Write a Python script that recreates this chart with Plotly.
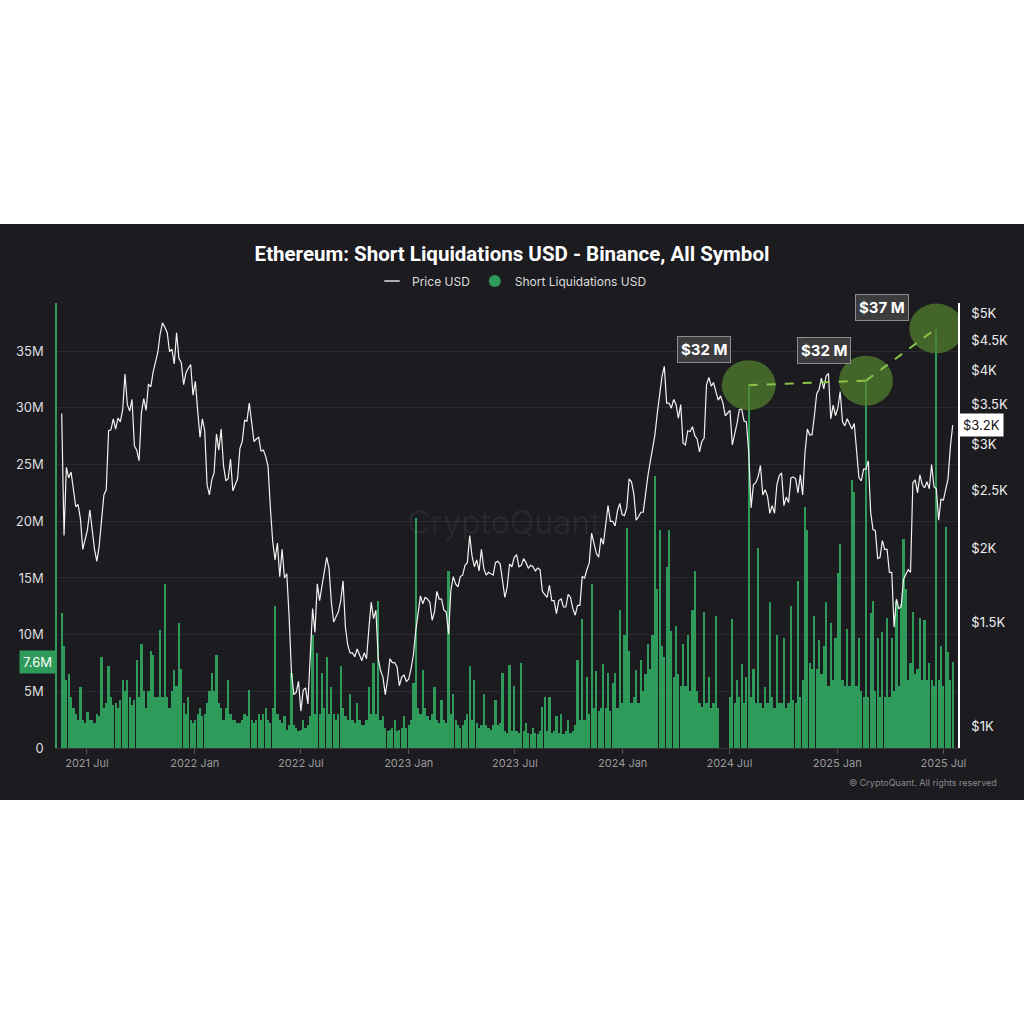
import numpy as np
import pandas as pd
import plotly.graph_objects as go

# ---------------- data ----------------
# ETH price (USD), one value every 4 days from 2021-05-19
price_start = "2021-05-19"
price_usd = [
    # 2021
    3380, 2100, 2740, 2630, 2690, 2510, 2350, 2370, 2240, 1990, 2080,
    2150, 2320, 2140, 1990, 1900, 2020, 2230, 2460, 2510, 3160, 3170,
    3310, 3180, 3320, 3270, 3430, 3940, 3500, 3410, 3570, 2980, 2930,
    2810, 3390, 3580, 3420, 3790, 3750, 3970, 4130, 4290, 4610, 4810,
    4730, 4630, 4300, 4340, 4100, 4630, 4190, 4120, 3780, 3960, 4030,
    4090, 3630,
    # 2022
    3830, 3410, 3080, 3310, 3160, 2560, 2460, 2610, 2680, 3120, 2930,
    3180, 2760, 2600, 2620, 2830, 2500, 2560, 2620, 2950, 3030, 3290,
    3280, 3520, 3260, 3030, 3060, 3080, 2920, 2930, 2860, 2750, 2340,
    2050, 1910, 2040, 1790, 1990, 1780, 1810, 1530, 1230, 1130, 1140,
    1190, 1060, 1150, 1160, 1090, 1350, 1580, 1440, 1740, 1630, 1730,
    1850, 1930, 1850, 1620, 1500, 1530, 1560, 1630, 1760, 1470, 1370,
    1330, 1330, 1310, 1350, 1320, 1290, 1330, 1300, 1460, 1620, 1520,
    1570, 1300, 1240, 1210, 1130, 1200, 1300, 1280, 1280, 1260, 1170,
    1210, 1220, 1190,
    # 2023
    1200, 1250, 1320, 1450, 1570, 1660, 1610, 1650, 1640, 1620, 1510,
    1560, 1690, 1640, 1640, 1570, 1560, 1430, 1700, 1790, 1740, 1720,
    1790, 1800, 1870, 1890, 2100, 1940, 1860, 1910, 1830, 1990, 1850,
    1800, 1820, 1810, 1800, 1890, 1900, 1880, 1750, 1650, 1720, 1880,
    1860, 1930, 1950, 1860, 1870, 1920, 1890, 1850, 1870, 1860, 1830,
    1850, 1840, 1690, 1670, 1650, 1730, 1630, 1630, 1550, 1630, 1640,
    1590, 1590, 1670, 1650, 1580, 1540, 1600, 1600, 1790, 1780, 1840,
    1890, 2120, 2040, 1960, 1930, 2080, 2030, 2190, 2360, 2220, 2220,
    2180, 2310, 2380, 2280,
    # 2024
    2270, 2340, 2620, 2590, 2470, 2230, 2260, 2300, 2300, 2480, 2650,
    2800, 2960, 3110, 3380, 3640, 3900, 4060, 3520, 3520, 3450, 3570,
    3500, 3320, 3500, 3010, 2990, 3160, 3150, 3210, 3100, 3060, 2910,
    3030, 3070, 3780, 3890, 3760, 3810, 3680, 3560, 3620, 3520, 3350,
    3380, 3420, 2990, 3100, 3250, 3430, 3440, 3280, 3270, 2900, 2340,
    2560, 2580, 2640, 2760, 2460, 2510, 2450, 2290, 2360, 2290, 2560,
    2650, 2680, 2360, 2440, 2390, 2630, 2640, 2620, 2480, 2660, 2460,
    2900, 3180, 3110, 3110, 3350, 3650, 3710, 3880, 3720, 3910, 3950,
    3310, 3490, 3350,
    # 2025
    3450, 3680, 3270, 3220, 3310, 3250, 3180, 3250, 2880, 2630, 2600,
    2720, 2720, 2810, 2300, 2150, 2140, 1920, 1930, 2060, 1990, 1990,
    1820, 1820, 1470, 1640, 1580, 1590, 1770, 1800, 1840, 1820, 2580,
    2610, 2480, 2660, 2560, 2530, 2590, 2520, 2770, 2540, 2520, 2230,
    2420, 2410, 2520, 2620, 2970, 3230,
]

# Binance ETH short liquidations (million USD), one value every 4 days from 2021-05-19
liq_start = "2021-05-19"
short_liq_musd = [
    11.9, 9, 6, 6.5, 4.5, 3.5, 3, 2.5, 5.4, 2.5,
    2.2, 3.2, 2.5, 2.5, 2.2, 3, 2.8, 8, 3.5, 4,
    7.2, 4.5, 3.8, 4, 3.5, 4.2, 6, 5, 6, 4.5,
    3.8, 4.2, 7.8, 4.5, 9.2, 5, 3.5, 5, 8.6, 8.2,
    4.5, 4.5, 10.4, 4.5, 14.5, 4.5, 3.5, 5, 6.9, 5.5,
    11, 7, 4, 3, 4.5, 2.5, 2.2, 2.5, 3, 3.5,
    2.8, 3, 4, 5, 6.6, 5, 8.2, 4, 3.5, 2.5,
    3.5, 6, 3, 2.5, 2.5, 2.2, 2.2, 2.5, 3, 2.8,
    5.1, 2.5, 2.2, 2.5, 3, 2.5, 3, 3.5, 2.5, 2.2,
    3.5, 12.5, 3, 2.5, 2.2, 2.8, 1.6, 2, 6.6, 2,
    1.8, 1.5, 1.6, 2.5, 1.8, 2, 2.8, 10, 3, 8.4,
    3, 6.6, 3.5, 8, 3, 5.4, 3, 2.5, 3, 7.2,
    3.5, 2.8, 2.5, 4.8, 2.5, 2.2, 4, 2.5, 2, 2,
    2.5, 5.4, 3, 7.5, 3, 13, 2.5, 2.8, 1.8, 1.5,
    1.6, 1.8, 2.5, 1.5, 1.6, 1.8, 2.8, 1.8, 2, 2.5,
    5.7, 20.3, 3.5, 3, 6.9, 3.5, 2.8, 2.5, 3, 5.4,
    2.5, 2.2, 4.2, 2.5, 2.2, 15.6, 3, 4.8, 2.5, 2,
    1.8, 2, 2.5, 3, 7.2, 2.5, 6, 2.2, 1.8, 2,
    4.8, 2, 1.8, 1.6, 2, 4.2, 2, 2.2, 6.6, 1.5,
    1.3, 7.3, 1.5, 5.5, 1.5, 1.3, 7.5, 1.5, 2.2, 1.3,
    1.2, 1.8, 1.3, 1.2, 1.5, 3.6, 4.5, 1.5, 4.5, 1.3,
    1.5, 2.8, 1.3, 3, 1.2, 1.5, 2.5, 1.3, 1.5, 2,
    7.8, 2.5, 11.4, 2.5, 6.3, 3, 14.5, 3.5, 6.8, 3.3,
    3.5, 7.4, 3.5, 6.6, 3.3, 5.7, 6.6, 3.5, 12.2, 4,
    10, 19.4, 8.6, 4, 4.5, 6.9, 4, 7.8, 5, 6.5,
    9.2, 7, 10, 24, 14, 19.2, 9, 8, 16, 19.2,
    10.3, 6.3, 10.8, 6.5, 5.5, 9.2, 5.5, 10, 5, 12.2,
    15.6, 5, 4, 3.6, 12, 4, 6.3, 3.5, 4, 11.6,
    3.5, None, None, None, None, 4.5, 11.4, 4, 6, 4.5,
    7.4, 4, 6.3, 32, 4.5, 7, 4, 17.6, 4, 3.5,
    5.4, 4, 12.9, 4.5, 3.5, 10, 4, 4, 9.7, 3.5,
    4, 12.5, 4.2, 4, 14.7, 4.5, 6, 21.3, 19.2, 7.5,
    7, 11.6, 7, 9.5, 6.5, 9, 12.9, 5.5, 11, 6,
    9.7, 15.4, 18, 6, 5.5, 10.5, 5.5, 23.6, 22.6, 5.5,
    9.7, 5, 4.5, 32.4, 4.5, 11.9, 13, 5, 9.7, 4.5,
    10.2, 4.5, 11.5, 4.5, 9.7, 5, 13, 5.5, 12.7, 18.4,
    14, 6, 7.5, 12, 6.5, 7, 11.5, 6, 11.3, 6,
    7.5, 6, 5.5, 37, 6, 9, 5.5, 19.5, 8.5, 6, 7.6,
]

# bars highlighted with circles in the original chart
highlight_idx = [293, 343, 373]

left_tickvals = [0, 5, 10, 15, 20, 25, 30, 35]
left_ticktext = ["0", "5M", "10M", "15M", "20M", "25M", "30M", "35M"]
right_tickvals = [1000, 1500, 2000, 2500, 3000, 3500, 4000, 4500, 5000]
right_ticktext = ["$1K", "$1.5K", "$2K", "$2.5K", "$3K", "$3.5K", "$4K", "$4.5K", "$5K"]
x_tickvals = ["2021-07-01", "2022-01-01", "2022-07-01", "2023-01-01", "2023-07-01",
              "2024-01-01", "2024-07-01", "2025-01-01", "2025-07-01"]
x_ticktext = ["2021 Jul", "2022 Jan", "2022 Jul", "2023 Jan", "2023 Jul",
              "2024 Jan", "2024 Jul", "2025 Jan", "2025 Jul"]

price_dates = pd.date_range(price_start, periods=len(price_usd), freq="4D")
liq_dates = pd.date_range(liq_start, periods=len(short_liq_musd), freq="4D")

# ---------------- style ----------------
BG = "#1b1b20"
GREEN = "#2e9b5a"
FONT = "Inter, Roboto, sans-serif"

fig = go.Figure()

fig.add_trace(go.Bar(
    x=liq_dates, y=short_liq_musd, name="Short Liquidations USD",
    marker=dict(color=GREEN, line=dict(width=0)),
    width=4 * 86400000 * 0.95, showlegend=False, yaxis="y",
))
fig.add_trace(go.Scatter(
    x=price_dates, y=price_usd, name="Price USD", mode="lines",
    line=dict(color="#f2f2f2", width=1.2), yaxis="y2", showlegend=False,
))
# legend keys
fig.add_trace(go.Scatter(
    x=[None], y=[None], mode="markers", name="Price USD",
    marker=dict(symbol="line-ew", size=11, line=dict(color="#dddddd", width=1.5)),
))
fig.add_trace(go.Scatter(
    x=[None], y=[None], mode="markers", name="Short Liquidations USD",
    marker=dict(symbol="circle", size=12, color=GREEN),
))

shapes = [
    dict(type="rect", xref="paper", yref="paper", x0=-0.2, x1=1.3,
         y0=(748 - 800) / 445, y1=(748 - 224) / 445,
         fillcolor=BG, line=dict(width=0), layer="below"),
]
for k, idx in enumerate(highlight_idx):
    shapes.append(dict(
        type="circle", xref="x", yref="y", xsizemode="pixel", ysizemode="pixel",
        xanchor=liq_dates[idx], yanchor=short_liq_musd[idx],
        x0=-27, x1=27, y0=-25, y1=25,
        fillcolor="rgba(85,130,45,0.72)", line=dict(width=0), layer="above",
    ))
for a, b in zip(highlight_idx[:-1], highlight_idx[1:]):
    shapes.append(dict(
        type="line", xref="x", yref="y",
        x0=liq_dates[a], y0=short_liq_musd[a], x1=liq_dates[b], y1=short_liq_musd[b],
        line=dict(color="#8bc34a", width=2, dash="dash"), layer="above",
    ))

label_shift = [(-45, 36), (-42, 30), (-54, 21)]
annotations = []
for idx, (dx, dy) in zip(highlight_idx, label_shift):
    annotations.append(dict(
        x=liq_dates[idx], y=short_liq_musd[idx], xref="x", yref="y",
        xshift=dx, yshift=dy, showarrow=False,
        text=f"${round(short_liq_musd[idx])} M",
        font=dict(family=FONT, size=15, color="#ffffff", weight=700),
        bgcolor="#3c3c3e", bordercolor="#8c8c8c", borderwidth=1, borderpad=3,
    ))
# last-value markers
annotations.append(dict(
    x=0, xref="paper", xanchor="right", y=short_liq_musd[-1], yref="y",
    text=f"{short_liq_musd[-1]}M", showarrow=False,
    font=dict(family=FONT, size=13, color="#ffffff"),
    bgcolor=GREEN, borderpad=3, xshift=-1,
))
annotations.append(dict(
    x=1, xref="paper", xanchor="left", y=np.log10(price_usd[-1]), yref="y2",
    text=f"${price_usd[-1] / 1000:.1f}K", showarrow=False,
    font=dict(family=FONT, size=13, color="#111111"),
    bgcolor="#ffffff", borderpad=3, xshift=1,
))
# watermark and footer
annotations.append(dict(
    x=(504 - 57) / 901, y=(748 - 522) / 445, xref="paper", yref="paper",
    text="CryptoQuant", showarrow=False,
    font=dict(family=FONT, size=32, color="rgba(255,255,255,0.06)"),
))
annotations.append(dict(
    x=(999 - 57) / 901, y=(748 - 782) / 445, xref="paper", yref="paper",
    xanchor="right", yanchor="middle",
    text="© CryptoQuant. All rights reserved", showarrow=False,
    font=dict(family=FONT, size=9, color="#8a8a8a"),
))

fig.update_layout(
    width=1024, height=1024, autosize=False,
    margin=dict(l=57, r=66, t=303, b=276, pad=0),
    paper_bgcolor="#ffffff", plot_bgcolor=BG,
    font=dict(family=FONT, color="#dddddd"),
    title=dict(
        text="Ethereum: Short Liquidations USD - Binance, All Symbol",
        x=0.5, xref="container", xanchor="center",
        y=1 - 254 / 1024, yref="container", yanchor="middle",
        font=dict(family="Roboto, Inter, sans-serif", size=20.5, color="#ffffff", weight=700),
    ),
    legend=dict(
        orientation="h", x=(512 - 57) / 901, xanchor="center",
        y=(748 - 281) / 445, yanchor="middle",
        font=dict(family=FONT, size=12, color="#dddddd"),
        bgcolor="rgba(0,0,0,0)", itemwidth=30,
    ),
    bargap=0,
    xaxis=dict(
        type="date", range=["2021-05-11", "2025-07-26"],
        tickvals=x_tickvals, ticktext=x_ticktext,
        tickfont=dict(family=FONT, size=11, color="#9a9a9a"),
        ticks="outside", ticklen=5, tickcolor="#555555",
        showgrid=False, zeroline=False, showline=True, linecolor="#333333",
    ),
    yaxis=dict(
        range=[0, 39.25], tickvals=left_tickvals, ticktext=left_ticktext,
        tickfont=dict(family=FONT, size=13, color="#dddddd"),
        showgrid=True, gridcolor="#2a2a30", gridwidth=1, zeroline=False,
        showline=True, linecolor=GREEN, linewidth=1.5, ticklabelstandoff=9,
    ),
    yaxis2=dict(
        type="log", range=[2.9628, 3.7158], overlaying="y", side="right",
        tickvals=right_tickvals, ticktext=right_ticktext,
        tickfont=dict(family=FONT, size=13, color="#eeeeee"),
        showgrid=False, zeroline=False,
        showline=True, linecolor="#ffffff", linewidth=1.5, ticklabelstandoff=9,
    ),
    shapes=shapes, annotations=annotations,
)

fig.write_html("out.html")
